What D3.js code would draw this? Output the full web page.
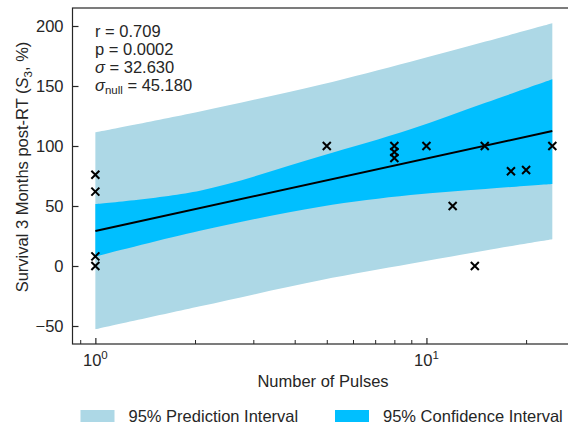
<!DOCTYPE html>
<html>
<head>
<meta charset="utf-8">
<script src="https://cdn.jsdelivr.net/npm/d3@7"></script>
<style>
    body { margin: 0; background: #fff; }
    text { font-family: "Liberation Sans", Arial, sans-serif; fill: #262626; }
</style>
</head>
<body>
<div id="chart"></div>
<script>
// data points (number of pulses vs survival %)
const pulses = [1, 1, 1, 1, 5, 8, 8, 8, 10, 12, 14, 15, 18, 20, 24];
const survival = [76, 62, 8, 0, 100, 100, 95, 90, 100, 50, 0, 100, 79, 80, 100];

// fitted line end points
const fitX = [1, 24];
const fitY = [29.2, 112.5];

// band edges
const bandX = [1, 2.07, 4.78, 8.95, 15.07, 24];
const predLower = [-52.8, -33.6, -11.9, 1.8, 13.0, 22.3];
const predUpper = [111.4, 128.8, 151.1, 170.3, 187.0, 202.2];
const confLower = [7.8, 29.3, 49.4, 59.2, 64.2, 68.3];
const confUpper = [51.7, 62.8, 91.4, 113.9, 136.0, 155.6];

const yTicks = [-50, 0, 50, 100, 150, 200];
const xMajor = [1, 10];
const xMinor = [0.9, 2, 3, 4, 5, 6, 7, 8, 9, 20];
const legendLabels = ["95% Prediction Interval", "95% Confidence Interval"];
const statLines = ["r = 0.709", "p = 0.0002", "32.630", "45.180"];

let width = 568, height = 427;
let plotLeft = 72.5, plotTop = 8, plotRight = 575, plotBottom = 344;
let fs = 16.5;

let svg = d3.select("#chart").append("svg")
    .attr("width", width)
    .attr("height", height);

let x = d3.scaleLog()
    .domain([0.853, 28.1])
    .range([plotLeft, plotRight]);

let y = d3.scaleLinear()
    .domain([-65, 215])
    .range([plotBottom, plotTop]);

let bandData = bandX.map((d, i) => ({
    x: d, pl: predLower[i], pu: predUpper[i], cl: confLower[i], cu: confUpper[i]
}));

let predArea = d3.area()
    .x(d => x(d.x))
    .y0(d => y(d.pl))
    .y1(d => y(d.pu))
    .curve(d3.curveCatmullRom);

let confArea = d3.area()
    .x(d => x(d.x))
    .y0(d => y(d.cl))
    .y1(d => y(d.cu))
    .curve(d3.curveCatmullRom);

svg.append("path")
    .datum(bandData)
    .attr("fill", "#add8e6")
    .attr("d", predArea);

svg.append("path")
    .datum(bandData)
    .attr("fill", "#00bfff")
    .attr("d", confArea);

// regression line
let line = d3.line()
    .x(d => x(d[0]))
    .y(d => y(d[1]));

svg.append("path")
    .datum(fitX.map((d, i) => [d, fitY[i]]))
    .attr("fill", "none")
    .attr("stroke", "#000")
    .attr("stroke-width", 2)
    .attr("d", line);

// x markers
svg.append("g")
    .selectAll("path")
    .data(pulses.map((d, i) => [d, survival[i]]))
    .join("path")
    .attr("transform", d => "translate(" + x(d[0]) + "," + y(d[1]) + ")")
    .attr("d", "M-4,-4L4,4M-4,4L4,-4")
    .attr("stroke", "#000")
    .attr("stroke-width", 2)
    .attr("fill", "none");

// frame
svg.append("rect")
    .attr("x", plotLeft)
    .attr("y", plotTop)
    .attr("width", plotRight - plotLeft)
    .attr("height", plotBottom - plotTop)
    .attr("fill", "none")
    .attr("stroke", "#262626")
    .attr("stroke-width", 1.2);

// y axis
let yAxis = svg.append("g")
    .attr("transform", "translate(" + plotLeft + ",0)")
    .call(d3.axisLeft(y).tickValues(yTicks).tickSize(-6).tickPadding(9)
        .tickFormat(d => d < 0 ? "\u2212" + Math.abs(d) : d));
yAxis.select(".domain").remove();
yAxis.selectAll("line").attr("stroke", "#262626").attr("stroke-width", 1.2);
yAxis.selectAll("text")
    .attr("font-size", fs)
    .attr("font-family", "Liberation Sans, Arial, sans-serif")
    .attr("fill", "#262626");

// x axis: minor then major ticks
let xMinorAxis = svg.append("g")
    .attr("transform", "translate(0," + plotBottom + ")")
    .call(d3.axisBottom(x).tickValues(xMinor).tickSize(-4).tickFormat(""));
xMinorAxis.select(".domain").remove();
xMinorAxis.selectAll("line").attr("stroke", "#262626").attr("stroke-width", 1);

let xAxis = svg.append("g")
    .attr("transform", "translate(0," + plotBottom + ")")
    .call(d3.axisBottom(x).tickValues(xMajor).tickSize(-6).tickFormat(""));
xAxis.select(".domain").remove();
xAxis.selectAll("line").attr("stroke", "#262626").attr("stroke-width", 1.2);

xMajor.forEach(v => {
    let t = svg.append("text")
        .attr("x", x(v))
        .attr("y", 366)
        .attr("text-anchor", "middle")
        .attr("font-size", fs);
    t.append("tspan").text("10");
    t.append("tspan")
        .attr("font-size", 11.5)
        .attr("dy", -7)
        .text(Math.round(Math.log10(v)));
});

// axis labels
svg.append("text")
    .attr("x", 323)
    .attr("y", 387)
    .attr("text-anchor", "middle")
    .attr("font-size", fs)
    .text("Number of Pulses");

let ylab = svg.append("text")
    .attr("transform", "translate(28,167) rotate(-90)")
    .attr("text-anchor", "middle")
    .attr("font-size", fs);
ylab.append("tspan").text("Survival 3 Months post-RT (");
ylab.append("tspan").attr("font-style", "italic").text("S");
ylab.append("tspan").attr("font-size", 11.5).attr("dy", 3.5).text("3");
ylab.append("tspan").attr("dy", -3.5).text(", %)");

// stats text
let statY = [37.3, 55.1, 72.9, 90.7];
svg.append("text").attr("x", 95).attr("y", statY[0]).attr("font-size", fs).text(statLines[0]);
svg.append("text").attr("x", 95).attr("y", statY[1]).attr("font-size", fs).text(statLines[1]);
let s1 = svg.append("text").attr("x", 95).attr("y", statY[2]).attr("font-size", fs);
s1.append("tspan").attr("font-style", "italic").text("\u03c3");
s1.append("tspan").text(" = " + statLines[2]);
let s2 = svg.append("text").attr("x", 95).attr("y", statY[3]).attr("font-size", fs);
s2.append("tspan").attr("font-style", "italic").text("\u03c3");
s2.append("tspan").attr("font-size", 11.5).attr("dy", 3.5).text("null");
s2.append("tspan").attr("dy", -3.5).text(" = " + statLines[3]);

// legend
let legendColors = ["#add8e6", "#00bfff"];
let legendX = [80.5, 335];
legendLabels.forEach((lab, i) => {
    svg.append("rect")
        .attr("x", legendX[i])
        .attr("y", 410)
        .attr("width", 34)
        .attr("height", 12)
        .attr("fill", legendColors[i]);
    svg.append("text")
        .attr("x", legendX[i] + 48)
        .attr("y", 422)
        .attr("font-size", fs)
        .text(lab);
});
</script>
</body>
</html>
